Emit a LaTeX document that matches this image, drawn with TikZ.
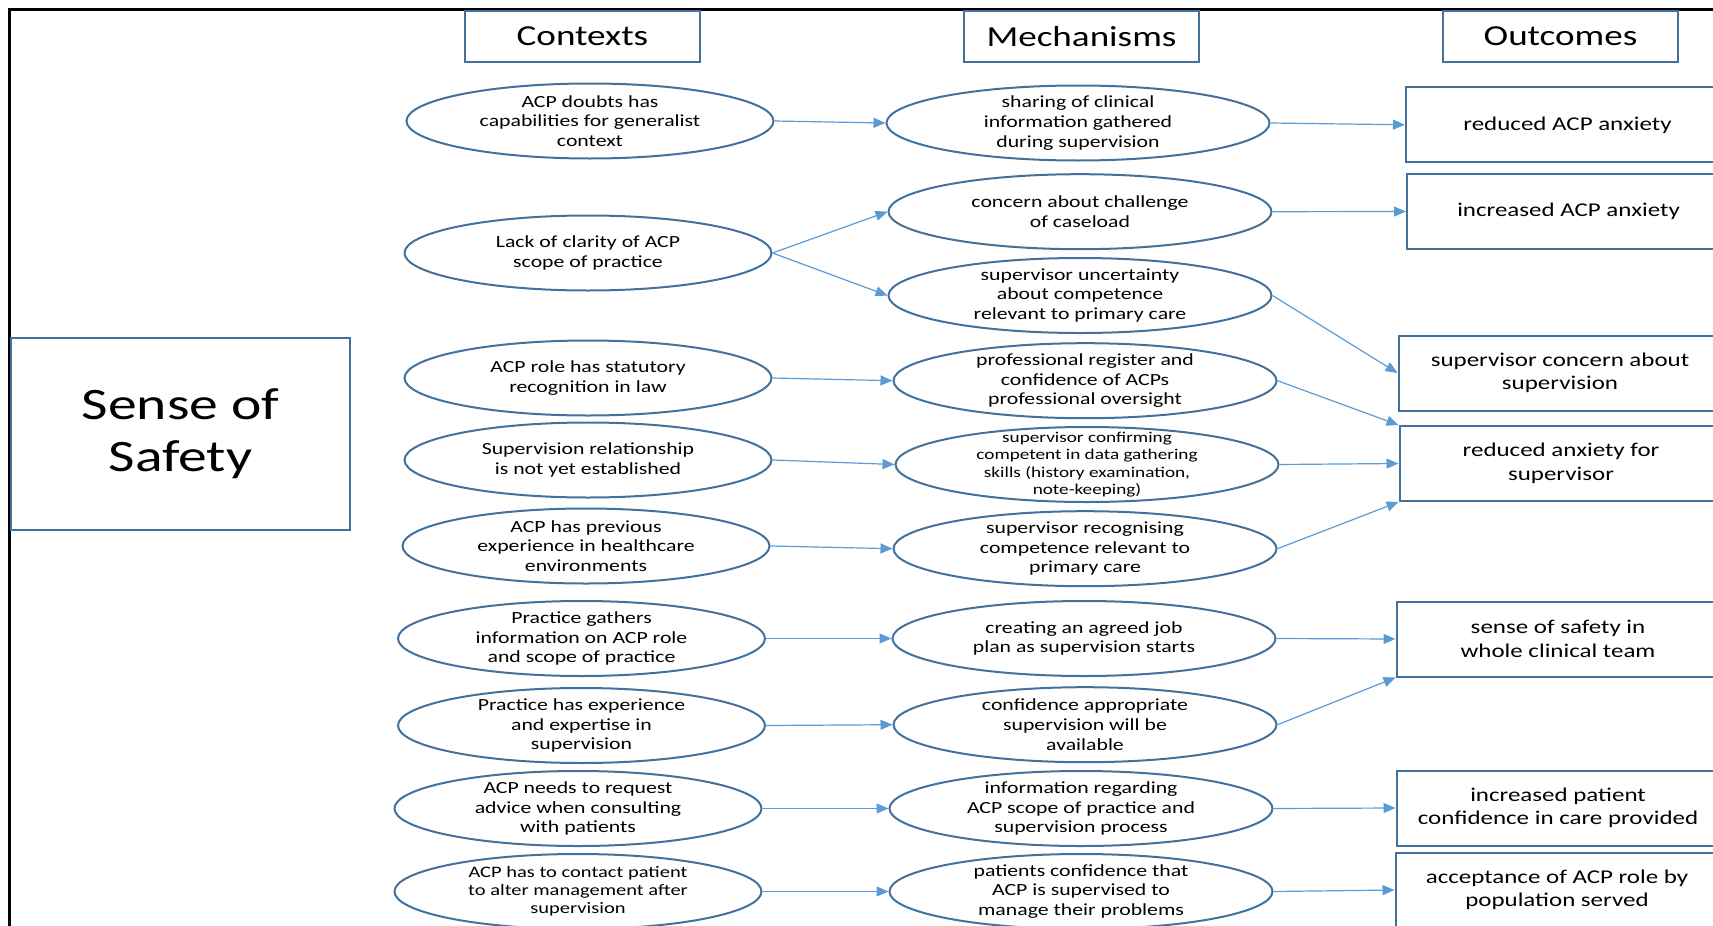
\documentclass[tikz,border=0pt]{standalone}
\usepackage{fontspec}
\setmainfont{Carlito}[FakeStretch=1.28]
\usepackage{tikz}
\usetikzlibrary{positioning,arrows.meta,shapes.geometric}
\definecolor{shapec}{RGB}{65,113,156}
\definecolor{linkc}{RGB}{91,155,213}
\tikzset{
  header/.style    = {draw=shapec, line width=2pt, minimum width=235pt, minimum height=51pt,
                      inner sep=0pt, font=\fontsize{29}{34}\selectfont},
  context/.style   = {ellipse, draw=shapec, line width=2pt, minimum width=367pt, minimum height=75pt,
                      inner xsep=0pt, inner ysep=-9pt, align=center, font=\fontsize{17}{19.7}\selectfont},
  mechanism/.style = {context, minimum width=383pt},
  outcome/.style   = {draw=shapec, line width=2pt, minimum width=323pt, minimum height=75pt,
                      inner sep=0pt, align=center, font=\fontsize{19.5}{23.5}\selectfont},
  theme/.style     = {draw=shapec, line width=2pt, minimum width=339pt, minimum height=192pt,
                      inner sep=0pt, align=center, font=\fontsize{45}{51.5}\selectfont},
  link/.style      = {-{Triangle[length=12pt,width=10pt]}, line width=1.2pt, draw=linkc},
}

\begin{document}
\begin{tikzpicture}[x=1pt, y=-1pt]
\useasboundingbox (0,0) rectangle (1713,926);
\draw[line width=3pt] (9,9) rectangle (1740,950);

\node[header] (hctx) at (582.5,36.5) {Contexts};
\node[header] (hmech) at (1081.5,36.5) {Mechanisms};
\node[header] (hout) at (1560.5,36.5) {Outcomes};

\node[theme] (safety) at (180.5,433.5) {Sense of\\Safety};

% contexts
\node[context] (c1) at (590,121) {ACP doubts has\\capabilities for generalist\\context};
\node[context] (c2) at (588,253) {Lack of clarity of ACP\\scope of practice};
\node[context] (c3) at (588,378) {ACP role has statutory\\recognition in law};
\node[context] (c4) at (588,460) {Supervision relationship\\is not yet established};
\node[context] (c5) at (586,546) {ACP has previous\\experience in healthcare\\environments};
\node[context] (c6) at (581.5,638.5) {Practice gathers\\information on ACP role\\and scope of practice};
\node[context] (c7) at (581.5,725.5) {Practice has experience\\and expertise in\\supervision};
\node[context] (c8) at (578,808.5) {ACP needs to request\\advice when consulting\\with patients};
\node[context, font=\fontsize{16}{18}\selectfont] (c9) at (578,891.5)
  {ACP has to contact patient\\to alter management after\\supervision};

% mechanisms
\node[mechanism] (m1) at (1078,123) {sharing of clinical\\information gathered\\during supervision};
\node[mechanism] (m2) at (1080,211.7) {concern about challenge\\of caseload};
\node[mechanism] (m3) at (1080,295.5) {supervisor uncertainty\\about competence\\relevant to primary care};
\node[mechanism] (m4) at (1085,380.7) {professional register and\\confidence of ACPs\\professional oversight};
\node[mechanism, font=\fontsize{15}{17.3}\selectfont] (m5) at (1087,464.5)
  {supervisor confirming\\competent in data gathering\\skills (history examination,\\note-keeping)};
\node[mechanism] (m6) at (1085,548.7) {supervisor recognising\\competence relevant to\\primary care};
\node[mechanism] (m7) at (1084,638.5) {creating an agreed job\\plan as supervision starts};
\node[mechanism] (m8) at (1085,724.7) {confidence appropriate\\supervision will be\\available};
\node[mechanism] (m9) at (1081,808.5) {information regarding\\ACP scope of practice and\\supervision process};
\node[mechanism] (m10) at (1081,891.5) {patients confidence that\\ACP is supervised to\\manage their problems};

% outcomes
\node[outcome] (o1) at (1567.5,124.8) {reduced ACP anxiety};
\node[outcome] (o2) at (1568.5,211.5) {increased ACP anxiety};
\node[outcome] (o3) at (1560,373) {supervisor concern about\\supervision};
\node[outcome] (o4) at (1561,463.5) {reduced anxiety for\\supervisor};
\node[outcome] (o5) at (1558,639) {sense of safety in\\whole clinical team};
\node[outcome] (o6) at (1558,808) {increased patient\\confidence in care provided};
\node[outcome] (o7) at (1557,890) {acceptance of ACP role by\\population served};

\draw[link] (c1.east) -- (m1.west);
\draw[link] (c2.east) -- (m2.west);
\draw[link] (c2.east) -- (m3.west);
\draw[link] (c3.east) -- (m4.west);
\draw[link] (c4.east) -- (m5.west);
\draw[link] (c5.east) -- (m6.west);
\draw[link] (c6.east) -- (m7.west);
\draw[link] (c7.east) -- (m8.west);
\draw[link] (c8.east) -- (m9.west);
\draw[link] (c9.east) -- (m10.west);

\draw[link] (m1.east) -- (o1.west);
\draw[link] (m2.east) -- (o2.west);
\draw[link] (m3.east) -- (o3.west);
\draw[link] (m4.east) -- (o4.north west);
\draw[link] (m5.east) -- (o4.west);
\draw[link] (m6.east) -- (o4.south west);
\draw[link] (m7.east) -- (o5.west);
\draw[link] (m8.east) -- (o5.south west);
\draw[link] (m9.east) -- (o6.west);
\draw[link] (m10.east) -- (o7.west);

\end{tikzpicture}
\end{document}
